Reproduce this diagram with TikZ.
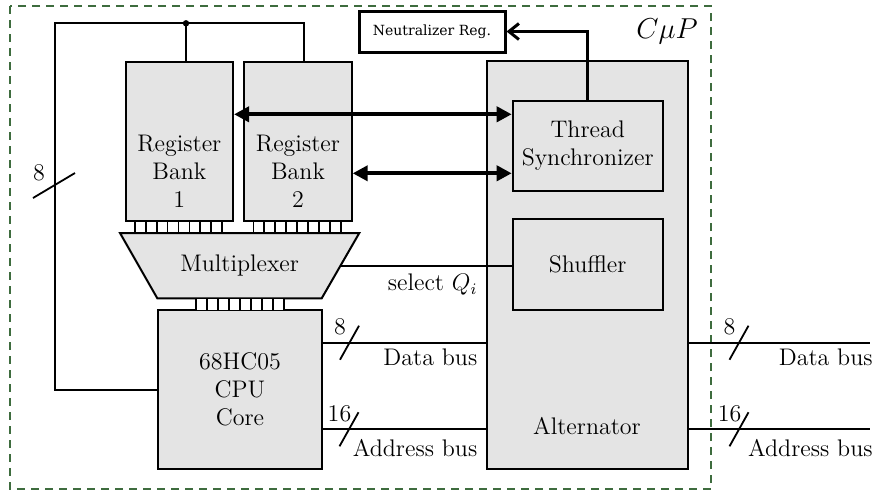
\documentclass[tikz,border=0pt]{standalone}
\usepackage{amsmath,amssymb}
\usepackage{fontspec}
\newfontfamily\regfont{DejaVu Serif}
\usepackage{tikz}
\usetikzlibrary{arrows.meta,positioning,calc,shapes.geometric}
\definecolor{framegreen}{RGB}{62,108,62}
\definecolor{unitgray}{gray}{0.895}
\tikzset{
  box/.style={draw, line width=1pt, fill=unitgray, align=center, font=\large, inner sep=2pt},
  mbox/.style={draw, line width=1pt, fill=unitgray, line join=miter},
  rbox/.style={draw, line width=1.5pt, fill=white, font=\regfont\fontsize{7}{8}\selectfont, inner sep=2pt},
  pin/.style={draw, line width=0.8pt, fill=white},
  wire/.style={line width=1pt},
  slash/.style={line width=0.9pt},
  dbl/.style={{Triangle[length=7.5pt,width=7.5pt]}-{Triangle[length=7.5pt,width=7.5pt]}, line width=2pt},
  arr/.style={-{Straight Barb[length=5pt,width=8pt]}, line width=1.5pt},
  lbl/.style={font=\large, inner sep=1pt, align=center},
  cmup/.style={draw=framegreen, line width=1pt, dash pattern=on 4pt off 3pt},
}

\begin{document}
\begin{tikzpicture}[x=0.5pt, y=-0.5pt]
\useasboundingbox (0,0) rectangle (881,493);
\draw[cmup] (10,6) rectangle (711,489);
\node[font=\Large] (cmp) at (667,31) {$C\mu P$};
% register banks, mux, cpu
\node[box, minimum width=53.7pt, minimum height=79.5pt] (rbA) at (179.35,141.5) {};
\node[box, minimum width=53.7pt, minimum height=79.5pt] (rbB) at (298,141.5) {};
\node[lbl] (rbAt) at ([yshift=-15pt]rbA.center) {Register\\Bank\\1};
\node[lbl] (rbBt) at ([yshift=-15pt]rbB.center) {Register\\Bank\\2};
\draw[mbox] (120,233) -- (359.3,233) -- (321.7,298.3) -- (157.3,298.3) -- cycle;
\node[lbl] (mux) at (239.65,265.65) {Multiplexer};
\coordinate (muxR) at (340.5,265.65);
\node[box, minimum width=81.7pt, minimum height=79.35pt] (cpu) at (240,389.65) {68HC05\\CPU\\Core};
\foreach \i in {0,...,7} {
  \draw[pin] (135+\i*10.875,221) rectangle ++(10.875,12);
  \draw[pin] (253.3+\i*10.925,221) rectangle ++(10.925,12);
  \draw[pin] (196+\i*11,298.3) rectangle ++(11,12);
}
% alternator
\node[box, minimum width=100.65pt, minimum height=203.85pt] (alt) at (587.35,264.85) {};
\node[lbl] (altt) at (587,426) {Alternator};
\node[box, minimum width=75pt, minimum height=45.3pt] (ts) at (587.7,146) {Thread\\Synchronizer};
\node[box, minimum width=75pt, minimum height=45.8pt] (shuf) at (587.7,264.5) {Shuffler};
\node[rbox, minimum width=73pt, minimum height=20.5pt] (nreg) at (432,31.5) {Neutralizer Reg.};

% feedback from cpu to the banks
\coordinate (fbL) at (55,23.3);
\coordinate (fbA) at (186,23.3);
\coordinate (fbB) at (304.3,23.3);
\draw[wire] (cpu.west) -| (fbL) -- (fbB) -- (fbB |- rbB.north);
\draw[wire] (fbA) -- (fbA |- rbA.north);
\fill (fbA) circle (1.6pt);
\draw[slash] (33,198) -- (75,173);
\node[lbl] (fbw) at (39,173) {8};

% synchronizer links
\coordinate (tA) at ([yshift=13.6pt]rbA.east);
\coordinate (tB) at ([yshift=-15.9pt]rbB.east);
\draw[dbl] (tA) -- (tA -| ts.west);
\draw[dbl] (tB) -- (tB -| ts.west);
\draw[arr] (ts.north) |- (nreg.east);

% select line
\draw[wire] (muxR) -- (muxR -| shuf.west);
\node[lbl, anchor=north east] (sel) at ([xshift=-3pt,yshift=-3pt]muxR -| alt.west) {select $Q_i$};

% buses
\coordinate (dbL) at ([yshift=23.5pt]cpu.east);
\coordinate (abL) at ([yshift=-19.8pt]cpu.east);
\coordinate (dbR) at (870,342.7);
\coordinate (abR) at (870,429.3);
\draw[wire] (dbL) -- (dbL -| alt.west);
\draw[wire] (abL) -- (abL -| alt.west);
\draw[wire] (dbR -| alt.east) -- (dbR);
\draw[wire] (abR -| alt.east) -- (abR);
\foreach \x/\y/\w in {349.5/342.7/8, 739/342.7/8, 349/429.3/16, 739/429.3/16} {
  \draw[slash] (\x-9.5,\y+17) -- ++(19,-34);
  \node[lbl] at (\x-9.5,\y-16) {\w};
}
\node[lbl, anchor=north east] (dbLt) at ([xshift=-3pt,yshift=-2pt]dbL -| alt.west) {Data bus};
\node[lbl, anchor=north east] (abLt) at ([xshift=-3pt,yshift=-4pt]abL -| alt.west) {Address bus};
\node[lbl, anchor=north east] (dbRt) at ([xshift=2.5pt,yshift=-2pt]dbR) {Data bus};
\node[lbl, anchor=north east] (abRt) at ([xshift=2.5pt,yshift=-4pt]abR) {Address bus};
\end{tikzpicture}
\end{document}
